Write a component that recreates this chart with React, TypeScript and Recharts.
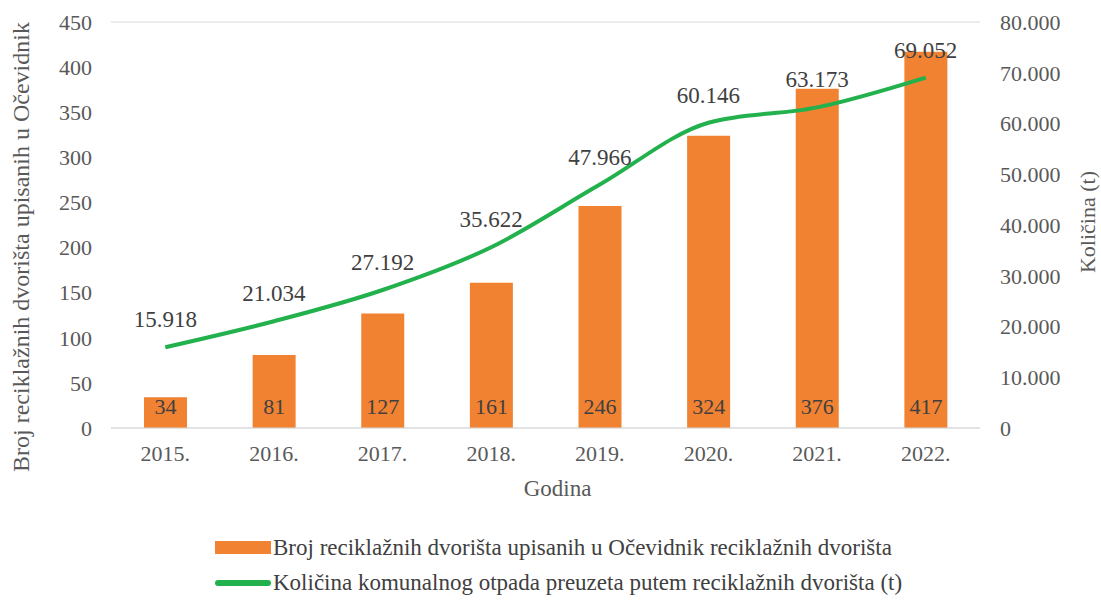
import { ComposedChart, Bar, Line, XAxis, YAxis, CartesianGrid, Legend, LabelList } from 'recharts'

const years = ['2015.', '2016.', '2017.', '2018.', '2019.', '2020.', '2021.', '2022.']
const yardCounts = [34, 81, 127, 161, 246, 324, 376, 417]
const wasteTonnes = [15918, 21034, 27192, 35622, 47966, 60146, 63173, 69052]
const leftTicks = [0, 50, 100, 150, 200, 250, 300, 350, 400, 450]
const rightTicks = [0, 10000, 20000, 30000, 40000, 50000, 60000, 70000, 80000]

const barName = 'Broj reciklažnih dvorišta upisanih u Očevidnik reciklažnih dvorišta'
const lineName = 'Količina komunalnog otpada preuzeta putem reciklažnih dvorišta (t)'
const leftTitle = 'Broj reciklažnih dvorišta upisanih u Očevidnik'
const rightTitle = 'Količina (t)'

const data = years.map((year, i) => ({ year, count: yardCounts[i], waste: wasteTonnes[i] }))

const FONT = '"Liberation Serif", "Times New Roman", serif'
const ORANGE = '#F08232'
const GREEN = '#22B14C'
const TEXT = '#595959'

const fmt = (v: number) => (v === 0 ? '0' : v.toLocaleString('de-DE'))

function LegendBox() {
  return (
    <div style={{ fontFamily: FONT, fontSize: 23, color: '#404040', lineHeight: '35px' }}>
      <div style={{ display: 'flex', alignItems: 'center', height: 35 }}>
        <span style={{ display: 'inline-block', width: 56, height: 13, background: ORANGE, marginRight: 2 }} />
        {barName}
      </div>
      <div style={{ display: 'flex', alignItems: 'center', height: 35 }}>
        <span style={{ display: 'inline-block', width: 56, height: 6, borderRadius: 3, background: GREEN, marginRight: 2 }} />
        {lineName}
      </div>
    </div>
  )
}

const vTitle = (text: string, x: number, y: number, size: number) => () => (
  <text
    x={x}
    y={y}
    transform={`rotate(-90, ${x}, ${y})`}
    textAnchor="middle"
    dominantBaseline="central"
    fill={TEXT}
    fontSize={size}
    fontFamily={FONT}
  >
    {text}
  </text>
)

export default function App() {
  return (
    <div style={{ position: 'absolute', left: 0, top: 0, background: '#fff' }}>
      <ComposedChart
        width={1101}
        height={602}
        data={data}
        margin={{ top: 22, right: 0, bottom: 34, left: 0 }}
        style={{ fontFamily: FONT }}
      >
        <CartesianGrid vertical={false} stroke="#d9d9d9" />
        <XAxis
          dataKey="year"
          height={70}
          axisLine={{ stroke: '#d9d9d9' }}
          tickLine={false}
          tickMargin={11}
          tick={{ fill: TEXT, fontSize: 22 }}
          label={{ value: 'Godina', position: 'insideBottom', offset: 2, dx: 12, fill: TEXT, fontSize: 23 }}
        />
        <YAxis
          yAxisId="left"
          width={111}
          domain={[0, 450]}
          ticks={leftTicks}
          axisLine={false}
          tickLine={false}
          tickMargin={13}
          tick={{ fill: TEXT, fontSize: 22 }}
          label={{ content: vTitle(leftTitle, 21, 247, 24) }}
        />
        <YAxis
          yAxisId="right"
          orientation="right"
          width={121}
          domain={[0, 80000]}
          ticks={rightTicks}
          tickFormatter={fmt}
          axisLine={false}
          tickLine={false}
          tickMargin={14}
          tick={{ fill: TEXT, fontSize: 22 }}
          label={{ content: vTitle(rightTitle, 1087, 222, 22) }}
        />
        <Bar yAxisId="left" dataKey="count" name={barName} fill={ORANGE} barSize={43} isAnimationActive={false}>
          <LabelList dataKey="count" position="insideBottom" offset={14} fill="#404040" fontSize={22} />
        </Bar>
        <Line
          yAxisId="right"
          type="monotone"
          dataKey="waste"
          name={lineName}
          stroke={GREEN}
          strokeWidth={4}
          dot={false}
          activeDot={false}
          isAnimationActive={false}
        >
          <LabelList dataKey="waste" position="top" offset={20} formatter={(v: any) => fmt(Number(v))} fill="#404040" fontSize={23} />
        </Line>
        <Legend
          verticalAlign="bottom"
          align="left"
          height={70}
          content={<LegendBox />}
          wrapperStyle={{ left: 215, top: 530, bottom: 'auto', width: 880 }}
        />
      </ComposedChart>
    </div>
  )
}
